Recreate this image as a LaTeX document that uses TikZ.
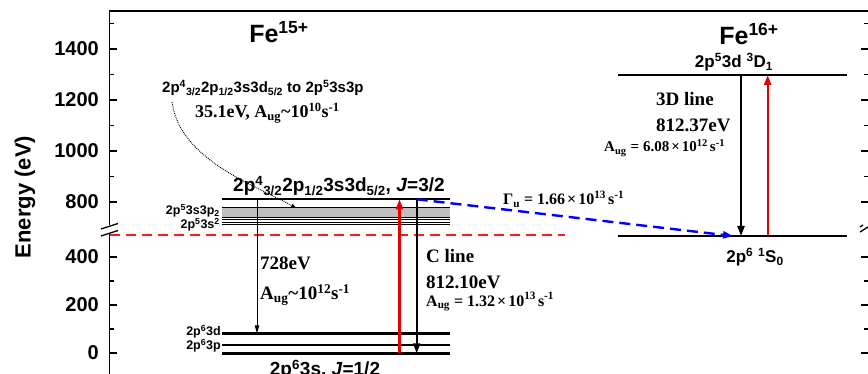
\documentclass[tikz,border=0pt]{standalone}
\usepackage{fontspec}
\setmainfont{Liberation Serif}
\setsansfont{Liberation Sans}
\usetikzlibrary{arrows.meta, positioning}

\newcommand{\supr}[1]{\textsuperscript{#1}}
\newcommand{\subr}[1]{\textsubscript{#1}}

\begin{document}
\begin{tikzpicture}[
    x=1pt, y=-1pt,
    axisline/.style = {line width=1.3pt, black},
    level/.style    = {line width=2.4pt, black},
    ticklab/.style  = {font=\fontsize{20}{20}\sffamily\bfseries, anchor=east, inner sep=0pt},
    conf/.style     = {font=\fontsize{12.5}{12.5}\sffamily\bfseries, anchor=east, inner sep=0pt},
    conflab/.style  = {font=\fontsize{18}{18}\sffamily\bfseries, inner sep=0pt},
    ion/.style      = {font=\fontsize{25}{25}\sffamily\bfseries, inner sep=0pt},
    linelab/.style  = {font=\fontsize{19}{19}\rmfamily\bfseries, anchor=base west, inner sep=0pt},
    ratelab/.style  = {font=\fontsize{16}{16}\rmfamily\bfseries, anchor=base west, inner sep=0pt},
    emit/.style     = {-{Triangle[length=10pt,width=7pt]}, line width=2.2pt},
    excite/.style   = {emit, red!90!black, line width=2.4pt},
    cascade/.style  = {-{Triangle[length=8pt,width=4.5pt]}, line width=0.9pt},
    decay/.style    = {-{Triangle[length=10pt,width=7pt]}, line width=2.4pt, blue,
                       dash pattern=on 11pt off 6pt},
]
\useasboundingbox (0,0) rectangle (868,374);
\clip (0,0) rectangle (868,374);

% Frame and axis breaks
\draw[axisline] (109.5,225) -- (109.5,11) -- (872,11);
\draw[axisline] (109.5,233) -- (109.5,380);
\draw[axisline] (101,229) -- (118,223.5);
\draw[axisline] (101,236) -- (118,230.5);
\draw[axisline] (860,232) -- (876,222);
\draw[axisline] (860,227) -- (863,225);

% Ticks, upper part
\foreach \e in {1400,1200,1000,800} {
  \draw[axisline] (109.5,{202-(\e-800)*0.255}) -- ++(7,0);
  \draw[axisline] (868.5,{202-(\e-800)*0.255}) -- ++(-8,0);
  \node[ticklab] (tl\e) at (99,{202-(\e-800)*0.255}) {\e};
}
\foreach \e in {1500,1300,1100,900} {
  \draw[axisline] (109.5,{202-(\e-800)*0.255}) -- ++(4.5,0);
  \draw[axisline] (868.5,{202-(\e-800)*0.255}) -- ++(-4.5,0);
}
% Ticks, lower part
\foreach \e in {400,200,0} {
  \draw[axisline] (109.5,{353-\e*0.24}) -- ++(7,0);
  \draw[axisline] (868.5,{353-\e*0.24}) -- ++(-8,0);
  \node[ticklab] (tl\e) at (99,{353-\e*0.24}) {\e};
}
\foreach \e in {300,100} {
  \draw[axisline] (109.5,{353-\e*0.24}) -- ++(4.5,0);
  \draw[axisline] (868.5,{353-\e*0.24}) -- ++(-4.5,0);
}
\node[font=\fontsize{22}{22}\sffamily\bfseries, rotate=90] (ylab) at (25,197) {Energy (eV)};

% Ionisation threshold
\coordinate (thrL) at (110,235.5);
\coordinate (thrR) at (565,235.5);
\draw[red!90!white, line width=2pt, dash pattern=on 10pt off 6pt] (thrL) -- (thrR);

% Fe15+ levels
\node[ion] (fe15) at (279,32) {Fe\supr{15+}};
\fill[black!25] (222,207.5) rectangle (450,217);
\draw[line width=0.6pt] (222,207.5) -- (450,207.5) (222,217) -- (450,217);
\draw[line width=1.8pt] (222,199.3) -- (450,199.3);
\foreach \y in {219.8,222.3,224.8}
  \draw[line width=1.2pt] (222,\y) -- (450,\y);
\draw[level] (222,333.3) -- (450,333.3);
\draw[level] (222,345) -- (450,345);
\draw[level] (222,353.3) -- (450,353.3);

\node[conflab, anchor=base west] (up15) at (233,192)
  {\fontsize{19}{19}\selectfont 2p\supr{4}\subr{3/2}2p\subr{1/2}3s3d\subr{5/2}, \textit{J}=3/2};
\node[conf] (s3p) at (220,211) {2p\supr{5}3s3p\subr{2}};
\node[conf] (s3s) at (220,224.5) {2p\supr{5}3s\supr{2}};
\node[conf] (p3d) at (221,332) {2p\supr{6}3d};
\node[conf] (p3p) at (221,346) {2p\supr{6}3p};
\node[conflab, anchor=north, font=\fontsize{19}{19}\sffamily\bfseries] (gnd15) at (325,360)
  {2p\supr{6}3s, \textit{J}=1/2};

% Fe16+ levels
\node[ion] (fe16) at (749,34) {Fe\supr{16+}};
\draw[level] (618,75) -- (847,75);
\draw[level] (618,236) -- (847,236);
\node[conflab, anchor=base, font=\fontsize{17}{17}\sffamily\bfseries] (up16) at (734,68)
  {2p\supr{5}3d \supr{3}D\subr{1}};
\node[conflab, anchor=base, font=\fontsize{17}{17}\sffamily\bfseries] (gnd16) at (755,263)
  {2p\supr{6} \supr{1}S\subr{0}};

% Arrow end points
\coordinate (casTop) at (257,199.3);
\coordinate (casBot) at (257,333.3);
\coordinate (cExBot) at (399.5,353.3);
\coordinate (cExTop) at (399.5,199.3);
\coordinate (cTop)   at (416.7,199.3);
\coordinate (cBot)   at (416.7,353.3);
\coordinate (dTop)   at (741,75);
\coordinate (dBot)   at (741,236);
\coordinate (dExBot) at (767.7,236);
\coordinate (dExTop) at (767.7,75);
\coordinate (gamEnd) at (733,236);
\coordinate (augStart) at (172,102);
\coordinate (augEnd)   at (296,208);

% Transitions
\draw[cascade] (casTop) -- (casBot);
\draw[excite]  (cExBot) -- (cExTop);
\draw[emit]    (cTop) -- (cBot);
\draw[emit]    (dTop) -- (dBot);
\draw[excite]  (dExBot) -- (dExTop);
\draw[decay]   (cTop) -- (gamEnd);
\draw[densely dotted, line width=0.9pt, -{Triangle[length=5pt,width=4pt]}]
  (augStart) .. controls (180,160) and (255,185) .. (augEnd);

% Labels of the transitions
\node[conflab, anchor=base west, font=\fontsize{15}{15}\sffamily\bfseries] (augLab) at (162,93)
  {2p\supr{4}\subr{3/2}2p\subr{1/2}3s3d\subr{5/2} to 2p\supr{5}3s3p};
\node[linelab, font=\fontsize{18}{18}\rmfamily\bfseries] (augRate) at (195,118)
  {35.1eV, A\subr{ug}\textasciitilde10\supr{10}s\supr{-1}};
\node[linelab] (casE) at (260,270) {728eV};
\node[linelab] (casA) at (260,300) {A\subr{ug}\textasciitilde10\supr{12}s\supr{-1}};
\node[linelab] (cName) at (426,263) {C line};
\node[linelab] (cE) at (426,288) {812.10eV};
\node[ratelab] (cA) at (426,306)
  {A\subr{ug}\hspace{4pt}=\hspace{4pt}1.32\hspace{2pt}×\hspace{2pt}10\supr{13}\hspace{2pt}s\supr{-1}};
\node[ratelab] (gam) at (503,205)
  {Γ\subr{u}\hspace{4pt}=\hspace{4pt}1.66\hspace{2pt}×\hspace{2pt}10\supr{13}\hspace{2pt}s\supr{-1}};
\node[linelab] (dName) at (656,106) {3D line};
\node[linelab] (dE) at (656,132) {812.37eV};
\node[ratelab, font=\fontsize{15}{15}\rmfamily\bfseries] (dA) at (604,152)
  {A\subr{ug}\hspace{4pt}=\hspace{4pt}6.08\hspace{2pt}×\hspace{2pt}10\supr{12}\hspace{2pt}s\supr{-1}};

\end{tikzpicture}
\end{document}
